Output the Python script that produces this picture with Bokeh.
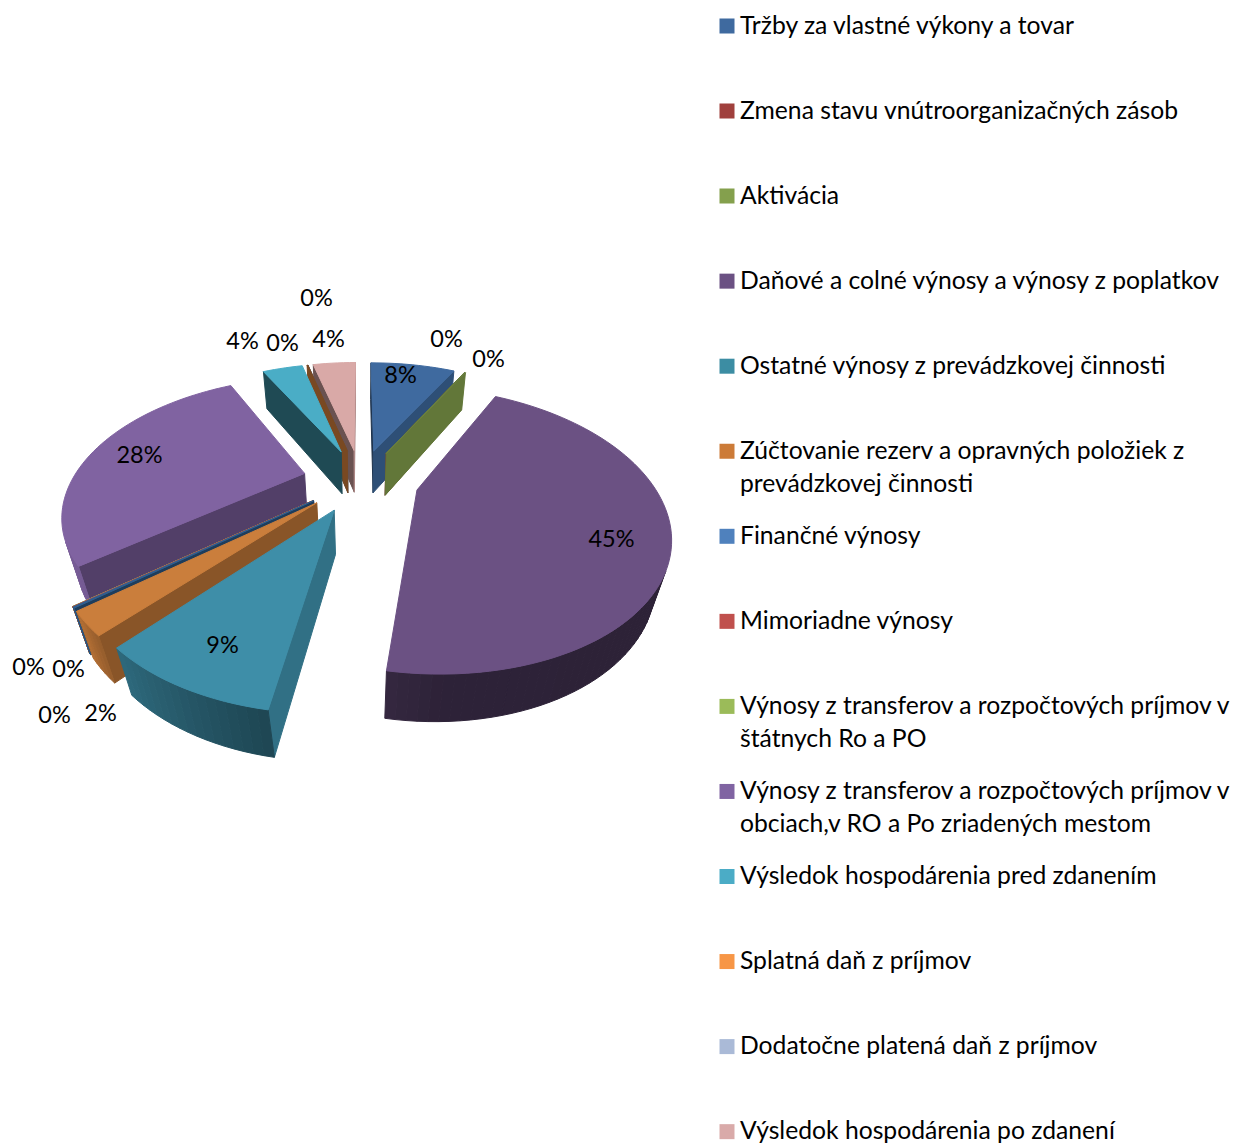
import math
import numpy as np
from bokeh.plotting import figure
from bokeh.models import Range1d
from bokeh.core.properties import value
from bokeh.embed import file_html
from bokeh.resources import INLINE

CATEGORIES = ["Tržby za vlastné výkony a tovar","Zmena stavu vnútroorganizačných zásob","Aktivácia",
 "Daňové a colné výnosy a výnosy z poplatkov","Ostatné výnosy z prevádzkovej činnosti",
 "Zúčtovanie rezerv a opravných položiek z\nprevádzkovej činnosti","Finančné výnosy","Mimoriadne výnosy",
 "Výnosy z transferov a rozpočtových príjmov v\nštátnych Ro a PO",
 "Výnosy z transferov a rozpočtových príjmov v\nobciach,v RO a Po zriadených mestom",
 "Výsledok hospodárenia pred zdanením","Splatná daň z príjmov","Dodatočne platená daň z príjmov","Výsledok hospodárenia po zdanení"]
VALUES = [7.65,0.01,0.08,44.50,8.92,2.49,0.12,0.02,0.02,28.10,3.61,0.05,0.02,3.86]
PCT = ["8%","0%","0%","45%","9%","2%","0%","0%","0%","28%","4%","0%","0%","4%"]
LEGEND_COLORS = ["#3F6A9F","#A0403D","#84A04D","#6B5183","#3C8DA3","#CC7B38","#4F81BD","#C0504D","#9BBB59","#8064A2","#4BACC6","#F79646","#AABAD7","#D9AAA9"]
FACE_COLORS = ["#3F6A9F","#5F7636","#6A8040","#6B5183","#3E8EA8","#CA7E3C","#2F5F8F","#C0504D","#9BBB59","#8063A1","#4AADC6","#7A4A22","#6A504F","#D9A9A7"]
WALL_COLORS = ["#3F6A9F","#A0403D","#84A04D","#6B5183","#3E8EA8","#CA7E3C","#2F5F8F","#C0504D","#9BBB59","#8063A1","#4AADC6","#F79646","#AABAD7","#D9A9A7"]

P = dict(cx=360.12,cy=479.26,A=232.91,B=126.34,k=.2758,m=-.0025,E=.2495,H=45.12,g=.0486,rot=0.)

def pt(c,i,ang,bottom):
    mid=math.radians((c[i]+c[i+1])/2)
    X=P["E"]*math.sin(mid); Y=P["E"]*math.cos(mid)
    if ang is not None:
        a=math.radians(ang); X+=math.sin(a); Y+=math.cos(a)
    w=1+P["k"]*Y+P["m"]*X
    if bottom:
        w+=P["g"]
        return P["cx"]+P["A"]*X/w, P["cy"]+(-P["B"]*Y+P["H"])/w
    return P["cx"]+P["A"]*X/w, P["cy"]-P["B"]*Y/w

def shade(c,f):
    r,g,b=[int(c[i:i+2],16) for i in (1,3,5)]
    return "#%02X%02X%02X"%(int(min(255,r*f)),int(min(255,g*f)),int(min(255,b*f)))
def f_outer(t): return float(np.interp(t%360,[90,180,190,222,232,270],[.42,.43,.5,.75,.92,1]))
def f_radial(n): return float(np.interp(n%360,[97,120,135,241,255],[.8,.74,.66,.42,.49]))

v=np.array(VALUES)
c=np.concatenate([[0],np.cumsum(v)])/v.sum()*360+P["rot"]
order=sorted(range(14),key=lambda i:-math.cos(math.radians((c[i]+c[i+1])/2)))
xs=[];ys=[];cols=[]
def area(q):
    s=0
    for a,b in zip(q,q[1:]+q[:1]): s+=a[0]*b[1]-b[0]*a[1]
    return s
def add(q,col):
    xs.append([a[0] for a in q]); ys.append([a[1] for a in q]); cols.append(col)
for i in order:
    arc=np.linspace(c[i],c[i+1],max(3,int((c[i+1]-c[i])/2)+2))
    ap_t=pt(c,i,None,0); ap_b=pt(c,i,None,1)
    q=[ap_t,pt(c,i,c[i],0),pt(c,i,c[i],1),ap_b]
    if area(q)<0: add(q,shade(WALL_COLORS[i],f_radial(c[i]-90)))
    q=[pt(c,i,c[i+1],0),ap_t,ap_b,pt(c,i,c[i+1],1)]
    if area(q)<0: add(q,shade(WALL_COLORS[i],f_radial(c[i+1]+90)))
    for a,b in zip(arc,arc[1:]):
        q=[pt(c,i,a,0),pt(c,i,b,0),pt(c,i,b,1),pt(c,i,a,1)]
        if area(q)<0: add(q,shade(WALL_COLORS[i],f_outer((a+b)/2)))
    add([ap_t]+[pt(c,i,a,0) for a in arc],FACE_COLORS[i])

p=figure(width=1237,height=1145,x_range=Range1d(0,1237),y_range=Range1d(1145,0),toolbar_location=None,output_backend="svg",min_border=0,outline_line_color=None)
p.axis.visible=False; p.grid.visible=False
p.patches(xs,ys,fill_color=cols,line_color=cols,line_width=1)
LABEL_POS=[(400,373),(446,337),(488,357),(611,537),(222,643),(100,711),(68,667),(28,665),(54,713),(139,453),(242,339),(282,341),(316,296),(328,337)]
p.text([a for a,b in LABEL_POS],[b for a,b in LABEL_POS],text=PCT,text_font=value("Lato"),text_font_size=value("23.5px"),text_align="center",text_baseline="middle",text_color="black")
PITCH=85.05; TOP=25; LINE=33
my=[TOP+PITCH*i for i in range(14)]
p.rect([726.5]*14,[y+.5 for y in my],width=15,height=15,fill_color=LEGEND_COLORS,line_color=None)
tx=[];ty=[];tt=[]
for i,s in enumerate(CATEGORIES):
    for j,l in enumerate(s.split("\n")):
        tx.append(739.5);ty.append(my[i]+j*LINE-1.5);tt.append(l)
p.text(tx,ty,text=tt,text_font=value("Lato"),text_font_size=value("24.7px"),text_align="left",text_baseline="middle",text_color="black")
open("out.html","w").write(file_html(p,INLINE))
